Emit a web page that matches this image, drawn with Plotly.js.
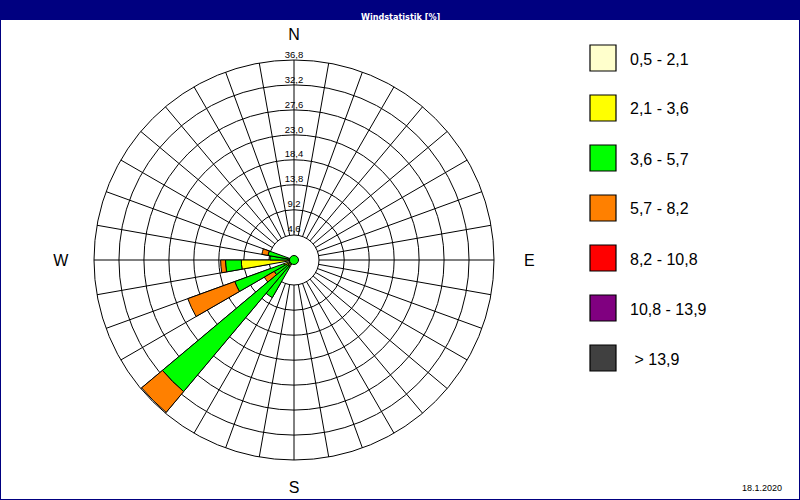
<!DOCTYPE html>
<html>
<head>
<meta charset="utf-8">
<script src="https://cdn.plot.ly/plotly-3.0.1.min.js"></script>
<style>
  html, body { margin: 0; padding: 0; background: #fff; }
  #chart { width: 800px; height: 500px; }
</style>
</head>
<body>
<div id="chart"></div>
<script>
// wind directions (sector centres, degrees from north, clockwise)
const directions = [215, 225, 235, 245, 265, 275, 285];

// frequency in % per speed class, stacked outward
const class1 = [0.3, 0.3, 0.4, 0.5, 1.0, 0.6, 0.3];   // 0,5 - 2,1
const class2 = [1.2, 1.2, 1.2, 1.5, 8.7, 0.6, 0.7];   // 2,1 - 3,6
const class3 = [6.5, 30.1, 2.6, 9.6, 2.9, 3.2, 3.85]; // 3,6 - 5,7
const class4 = [0, 5.0, 2.1, 9.2, 0.9, 0, 1.15];      // 5,7 - 8,2
const class5 = [0, 0, 0, 0, 0, 0, 0];                 // 8,2 - 10,8
const class6 = [0, 0, 0, 0, 0, 0, 0];                 // 10,8 - 13,9
const class7 = [0, 0, 0, 0, 0, 0, 0];                 // > 13,9

const classLabels = ['0,5 - 2,1', '2,1 - 3,6', '3,6 - 5,7', '5,7 - 8,2',
                     '8,2 - 10,8', '10,8 - 13,9', '\u00a0> 13,9'];
const classColors = ['#ffffcc', '#ffff00', '#00ff00', '#ff8000',
                     '#ff0000', '#800080', '#404040'];

const ringValues = [4.6, 9.2, 13.8, 18.4, 23.0, 27.6, 32.2, 36.8];
const ringLabels = ['4,6', '9,2', '13,8', '18,4', '23,0', '27,6', '32,2', '36,8'];

const compassAngles = [0, 90, 180, 270];
// padding spaces push E and W a bit further out, like the original
const compassLabels = ['N', '\u00a0\u00a0\u00a0E', 'S', 'W\u00a0\u00a0'];

const calm = [0];

const title = 'Windstatistik [%]';
const dateText = '18.1.2020';

// geometry (pixels in a 800x500 page)
const W = 800, H = 500;
const cx = 294, cy = 260, R = 200, holeR = 25;
const dom = {
    x: [(cx - R) / W, (cx + R) / W],
    y: [(H - cy - R) / H, (H - cy + R) / H]
};

const classes = [class1, class2, class3, class4, class5, class6, class7];
const traces = [];

// ring labels on the north spoke (grid subplot)
traces.push({
    type: 'scatterpolar',
    subplot: 'polar',
    r: ringValues,
    theta: ringValues.map(() => 0),
    mode: 'text',
    text: ringLabels,
    textposition: 'top center',
    textfont: { family: 'Liberation Sans', size: 9.5, color: '#000' },
    hoverinfo: 'skip',
    showlegend: false
});

classes.forEach((vals, i) => {
    traces.push({
        type: 'barpolar',
        subplot: 'polar2',
        r: vals,
        theta: directions,
        width: directions.map(() => 10),
        name: classLabels[i],
        marker: { color: classColors[i], line: { color: '#000', width: 1 } },
        showlegend: false
    });
});

traces.push({
    type: 'scatterpolar',
    subplot: 'polar2',
    r: calm,
    theta: [0],
    mode: 'markers',
    marker: { size: 9, color: '#00ff00', line: { color: '#000', width: 1 } },
    hoverinfo: 'skip',
    showlegend: false
});

const shapes = [];
const annotations = [];

// title bar
shapes.push({
    type: 'rect', xref: 'paper', yref: 'paper',
    x0: 0, x1: 1, y0: 1 - 20 / H, y1: 1,
    fillcolor: '#000080', line: { width: 0 }
});
annotations.push({
    xref: 'paper', yref: 'paper', x: 0.5, y: 1 - 10 / H,
    text: '<b>' + title + '</b>', showarrow: false,
    font: { family: 'DejaVu Sans Condensed, Liberation Sans', size: 9, color: '#fff' }
});
// window frame
shapes.push({
    type: 'rect', xref: 'paper', yref: 'paper',
    x0: 0, x1: 1, y0: 0, y1: 1,
    line: { color: '#000080', width: 2 }
});

// legend boxes
classLabels.forEach((lab, i) => {
    const top = 45 + i * 50;
    shapes.push({
        type: 'rect', xref: 'paper', yref: 'paper',
        x0: 590 / W, x1: 616 / W,
        y0: 1 - (top + 26) / H, y1: 1 - top / H,
        fillcolor: classColors[i], line: { color: '#000', width: 1.2 }
    });
    annotations.push({
        xref: 'paper', yref: 'paper',
        x: 628 / W, y: 1 - (top + 14) / H,
        xanchor: 'left', yanchor: 'middle',
        text: lab, showarrow: false,
        font: { family: 'Liberation Sans', size: 16, color: '#000' }
    });
});

annotations.push({
    xref: 'paper', yref: 'paper', x: 784 / W, y: 12 / H,
    xanchor: 'right', yanchor: 'middle',
    text: dateText, showarrow: false,
    font: { family: 'Liberation Sans', size: 9, color: '#000' }
});

const layout = {
    width: W, height: H,
    margin: { l: 0, r: 0, t: 0, b: 0 },
    paper_bgcolor: '#fff',
    showlegend: false,
    polar: {
        domain: dom,
        hole: holeR / R,
        bgcolor: '#fff',
        radialaxis: {
            range: [4.55, 36.8],
            tickvals: ringValues,
            showticklabels: false,
            ticks: '',
            showline: false,
            gridcolor: '#000',
            gridwidth: 1
        },
        angularaxis: {
            direction: 'clockwise',
            rotation: 90,
            dtick: 10,
            showticklabels: false,
            ticks: '',
            gridcolor: '#000',
            gridwidth: 1,
            showline: true,
            linecolor: '#000',
            linewidth: 1
        }
    },
    polar2: {
        domain: dom,
        bgcolor: 'rgba(0,0,0,0)',
        barmode: 'stack',
        bargap: 0,
        radialaxis: {
            range: [0, 36.8],
            visible: false
        },
        angularaxis: {
            direction: 'clockwise',
            rotation: 90,
            tickvals: compassAngles,
            ticktext: compassLabels,
            ticks: 'outside',
            ticklen: 13,
            tickcolor: 'rgba(0,0,0,0)',
            showgrid: false,
            showline: false,
            tickfont: { family: 'Liberation Sans', size: 16, color: '#000' }
        }
    },
    shapes: shapes,
    annotations: annotations
};

Plotly.newPlot('chart', traces, layout, { staticPlot: true });
</script>
</body>
</html>
